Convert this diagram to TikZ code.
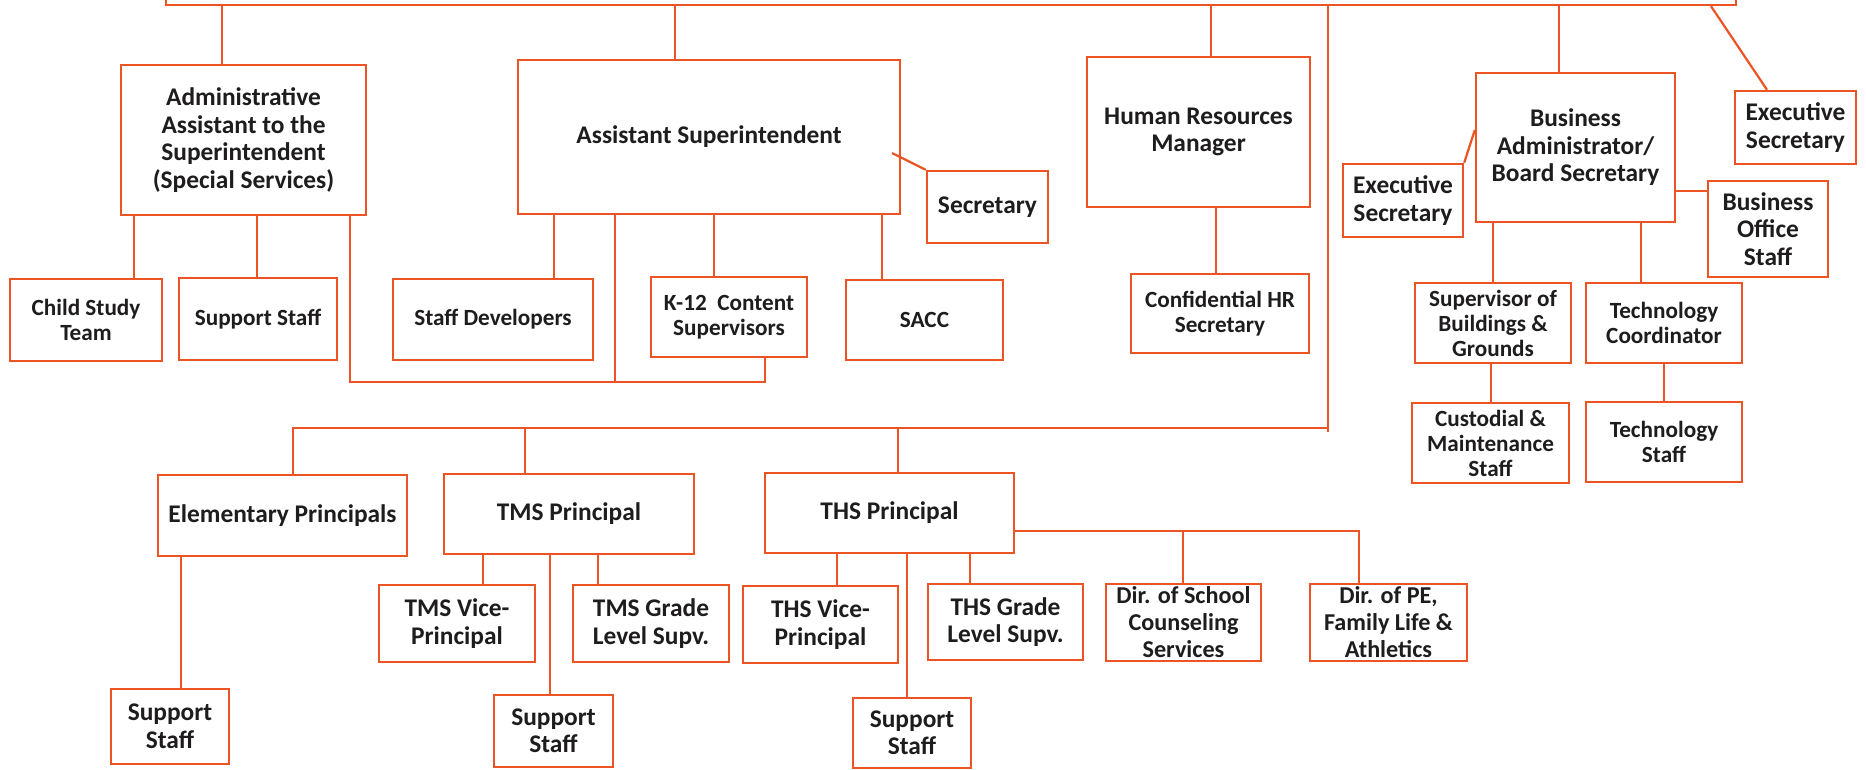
\documentclass[tikz,border=0pt]{standalone}
\usepackage{fontspec}
\newfontfamily\carl{Carlito}
\definecolor{lineorg}{RGB}{236,84,36}
\definecolor{txtgray}{RGB}{30,28,29}
\tikzset{
  box/.style={draw=lineorg, line width=2.4pt, fill=white, align=center, inner sep=0pt,
    text=txtgray, font=\carl\bfseries\fontsize{25.4}{27.5}\selectfont},
  sbox/.style={box, font=\carl\bfseries\fontsize{23.2}{25}\selectfont},
  mbox/.style={box, font=\carl\bfseries\fontsize{24.2}{27}\selectfont},
  conn/.style={draw=lineorg, line width=2.2pt}
}
\begin{document}
\begin{tikzpicture}[x=1pt,y=-1pt]
\useasboundingbox (0,0) rectangle (1866,770);
\clip (0,0) rectangle (1866,770);
\fill[white] (0,0) rectangle (1866,770);
% top box (cut off)
\node[box, minimum width=1570pt, minimum height=40pt] (top) at (951,-15) {};
% second level
\node[box, minimum width=245pt, minimum height=150pt] (admin) at (243.5,140) {Administrative\\Assistant to the\\Superintendent\\(Special Services)};
\node[box, minimum width=382pt, minimum height=154pt] (asst) at (709,137) {Assistant Superintendent};
\node[box, minimum width=223pt, minimum height=150pt] (hr) at (1198.5,132) {Human Resources\\Manager};
\node[box, minimum width=199pt, minimum height=149pt] (ba) at (1575.5,147.5) {Business\\Administrator/\\Board Secretary};
\node[box, minimum width=121pt, minimum height=73pt] (exr) at (1795.5,127.5) {Executive\\Secretary};
% third level
\node[sbox, minimum width=152pt, minimum height=82pt] (cst) at (86,320) {Child Study\\Team};
\node[sbox, minimum width=158pt, minimum height=82pt] (ssa) at (258,319) {Support Staff};
\node[box, minimum width=121pt, minimum height=72pt] (sec) at (987.5,207) {Secretary};
\node[sbox, minimum width=200pt, minimum height=81pt] (sdev) at (493,319.5) {Staff Developers};
\node[sbox, minimum width=156pt, minimum height=80pt] (k12) at (729,317) {K-12\ \ Content\\Supervisors};
\node[sbox, minimum width=157pt, minimum height=80pt] (sacc) at (924.5,320) {SACC};
\node[sbox, minimum width=178pt, minimum height=79pt] (chr) at (1220,313.5) {Confidential HR\\Secretary};
\node[box, minimum width=120pt, minimum height=73pt] (exl) at (1403,200.5) {Executive\\Secretary};
\node[box, minimum width=120pt, minimum height=96pt] (bos) at (1768,229) {Business\\Office\\Staff};
\node[sbox, minimum width=156pt, minimum height=80pt] (sbg) at (1493,323) {Supervisor of\\Buildings \&\\Grounds};
\node[sbox, minimum width=156pt, minimum height=80pt] (tc) at (1664,323) {Technology\\Coordinator};
\node[sbox, minimum width=157pt, minimum height=80pt] (cms) at (1490.5,443) {Custodial \&\\Maintenance\\Staff};
\node[sbox, minimum width=156pt, minimum height=80pt] (ts) at (1664,442) {Technology\\Staff};
% schools
\node[box, minimum width=249pt, minimum height=81pt] (elem) at (282.5,515.5) {Elementary Principals};
\node[box, minimum width=250pt, minimum height=80pt] (tms) at (569,514) {TMS Principal};
\node[box, minimum width=249pt, minimum height=80pt] (ths) at (889.5,513) {THS Principal};
\node[box, minimum width=118pt, minimum height=75pt] (sse) at (170,726.5) {Support\\Staff};
\node[box, minimum width=156pt, minimum height=77pt] (tmsvp) at (457,623.5) {TMS Vice-\\Principal};
\node[box, minimum width=156pt, minimum height=77pt] (tmsgl) at (651,623.5) {TMS Grade\\Level Supv.};
\node[box, minimum width=119pt, minimum height=72pt] (sst) at (553.5,731) {Support\\Staff};
\node[box, minimum width=155pt, minimum height=77pt] (thsvp) at (820.5,624.5) {THS Vice-\\Principal};
\node[box, minimum width=118pt, minimum height=70pt] (ssh) at (912,733) {Support\\Staff};
\node[box, minimum width=155pt, minimum height=76pt] (thsgl) at (1005.5,622) {THS Grade\\Level Supv.};
\node[mbox, minimum width=155pt, minimum height=77pt] (dsc) at (1183.5,622.5) {Dir. of School\\Counseling\\Services};
\node[mbox, minimum width=157pt, minimum height=77pt] (dpe) at (1388.5,622.5) {Dir. of PE,\\Family Life \&\\Athletics};
% connectors from top
\draw[conn] (top.south -| 222,0) -- (admin.north -| 222,0);
\draw[conn] (top.south -| 675,0) -- (asst.north -| 675,0);
\draw[conn] (top.south -| 1211,0) -- (hr.north -| 1211,0);
\draw[conn] (top.south -| 1559,0) -- (ba.north -| 1559,0);
\draw[conn] (top.south -| 1711,0) -- (exr.north -| 1767,0);
\coordinate (bus) at (1328,428);
\draw[conn] (top.south -| bus) -- (1328,432);
\draw[conn] (bus) -- (293,428) -- (elem.north -| 293,0);
\draw[conn] (525,428) -- (tms.north -| 525,0);
\draw[conn] (898,428) -- (ths.north -| 898,0);
% admin assistant
\draw[conn] (admin.south -| 134,0) -- (cst.north -| 134,0);
\draw[conn] (admin.south -| 257,0) -- (ssa.north -| 257,0);
\coordinate (brl) at (350,382);
\coordinate (brr) at (765,382);
\draw[conn] (admin.south -| brl) -- (brl) -- (brr) -- (k12.south -| brr);
\draw[conn] (asst.south -| 615,0) -- (615,382);
% assistant superintendent
\draw[conn] (asst.south -| 554,0) -- (sdev.north -| 554,0);
\draw[conn] (asst.south -| 714,0) -- (k12.north -| 714,0);
\draw[conn] (asst.south -| 882,0) -- (sacc.north -| 882,0);
\draw[conn] (892,153) -- (sec.north west);
% HR
\draw[conn] (hr.south -| 1216,0) -- (chr.north -| 1216,0);
% business
\draw[conn] (exl.north east) -- (ba.west |- 0,130);
\draw[conn] (ba.east |- 0,191) -- (bos.west |- 0,191);
\draw[conn] (ba.south -| 1493,0) -- (sbg.north -| 1493,0);
\draw[conn] (ba.south -| 1641,0) -- (tc.north -| 1641,0);
\draw[conn] (sbg.south -| 1491,0) -- (cms.north -| 1491,0);
\draw[conn] (tc.south) -- (ts.north);
% schools
\draw[conn] (elem.south -| 181,0) -- (sse.north -| 181,0);
\draw[conn] (tms.south -| 483,0) -- (tmsvp.north -| 483,0);
\draw[conn] (tms.south -| 550,0) -- (sst.north -| 550,0);
\draw[conn] (tms.south -| 598,0) -- (tmsgl.north -| 598,0);
\draw[conn] (ths.south -| 837,0) -- (thsvp.north -| 837,0);
\draw[conn] (ths.south -| 907,0) -- (ssh.north -| 907,0);
\draw[conn] (ths.south -| 970,0) -- (thsgl.north -| 970,0);
\draw[conn] (ths.east |- 0,531) -- (1359,531) -- (dpe.north -| 1359,0);
\draw[conn] (1183,531) -- (dsc.north -| 1183,0);
\end{tikzpicture}
\end{document}
